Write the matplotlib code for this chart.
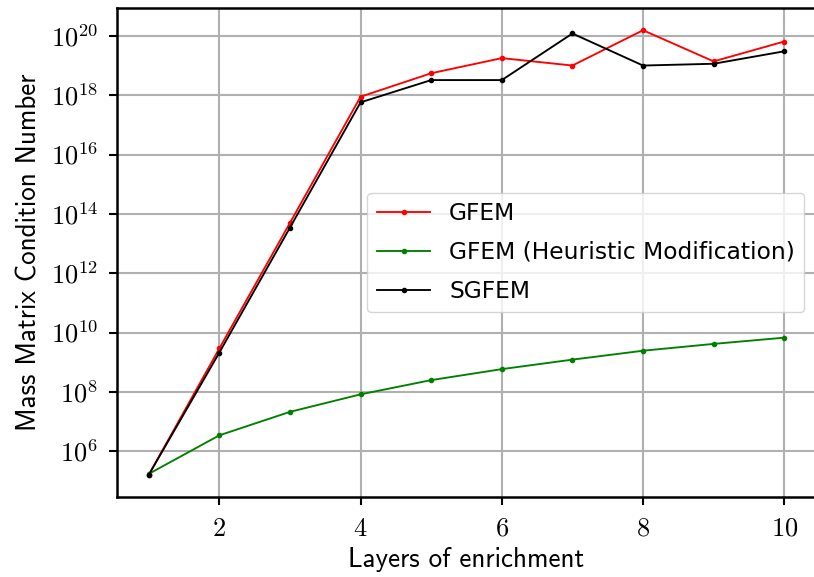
import matplotlib
matplotlib.use("Agg")
import matplotlib.pyplot as plt
from matplotlib.ticker import FuncFormatter, NullLocator
import numpy as np

plt.rcParams["mathtext.fontset"] = "cm"

# layers of enrichment
layers = [1, 2, 3, 4, 5, 6, 7, 8, 9, 10]

# log10 of the mass matrix condition number
gfem_log = [5.21, 9.47, 13.70, 17.95, 18.74, 19.25, 19.00, 20.19, 19.14, 19.81]
heur_log = [5.24, 6.54, 7.33, 7.92, 8.40, 8.77, 9.09, 9.39, 9.62, 9.83]
sgfem_log = [5.21, 9.33, 13.54, 17.76, 18.51, 18.51, 20.08, 19.00, 19.06, 19.48]

labels = ["GFEM", "GFEM (Heuristic Modification)", "SGFEM"]
colors = ["red", "green", "black"]
y_exponents = [6, 8, 10, 12, 14, 16, 18, 20]
x_ticks = [2, 4, 6, 8, 10]

fig = plt.figure(figsize=(8.14, 5.77), dpi=100)
ax = fig.add_axes([117 / 814, 1 - 497 / 577, (816 - 117) / 814, (497 - 8) / 577])

for vals, lbl, col in zip([gfem_log, heur_log, sgfem_log], labels, colors):
    ax.plot(layers, 10.0 ** np.array(vals), color=col, marker=".",
            markersize=6, linewidth=1.35, label=lbl)

ax.set_yscale("log")
ax.set_yticks([10.0 ** e for e in y_exponents])
ax.yaxis.set_minor_locator(NullLocator())
ax.yaxis.set_major_formatter(FuncFormatter(lambda v, p: r"$10^{%d}$" % round(np.log10(v))))
ax.set_xticks(x_ticks)
ax.xaxis.set_major_formatter(FuncFormatter(lambda v, p: r"$%d$" % v))

ax.set_axisbelow(True)
ax.grid(True, color="#b0b0b0", linewidth=1.5)
for sp in ax.spines.values():
    sp.set_linewidth(1.8)
ax.tick_params(direction="out", length=5.5, width=1.5, labelsize=19, pad=8)

ax.set_xlabel("Layers of enrichment", family="cmss10", fontsize=19.5, labelpad=4)
ax.set_ylabel("Mass Matrix Condition Number", family="cmss10", fontsize=19.5, labelpad=7)

ax.legend(loc="center right", fontsize=16.8, handlelength=2.3, labelspacing=0.68)

fig.savefig("out.png", dpi=100)
